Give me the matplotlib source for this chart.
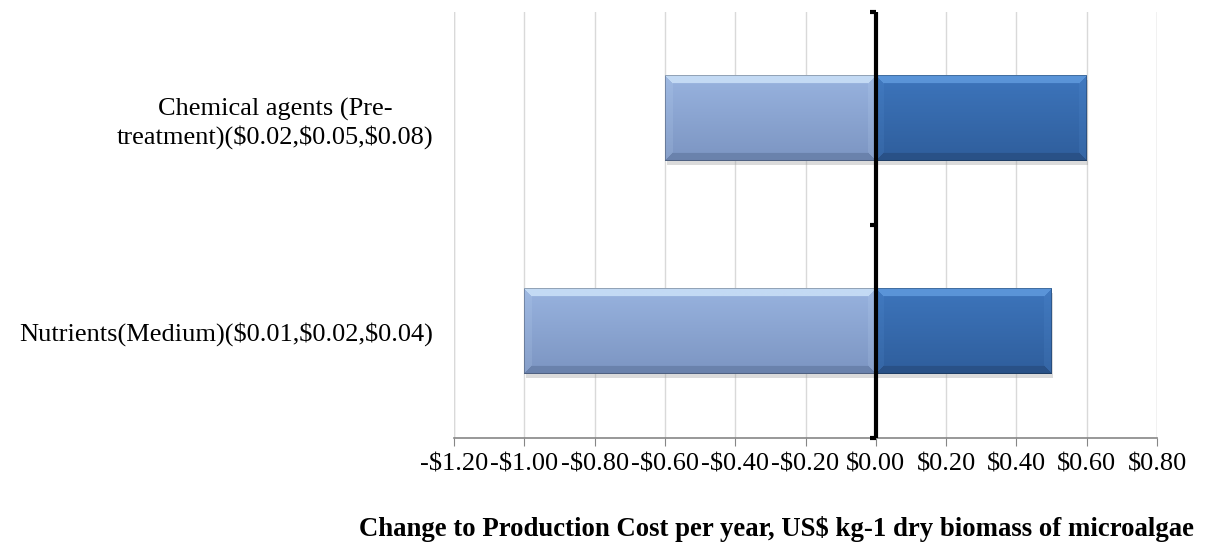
import matplotlib.pyplot as plt
from matplotlib.ticker import FuncFormatter
import numpy as np

categories = ["Nutrients(Medium)($0.01,$0.02,$0.04)",
              "Chemical agents (Pre-\ntreatment)($0.02,$0.05,$0.08)"]
low_change = [-1.00, -0.60]
high_change = [0.50, 0.60]
x_ticks = [-1.20, -1.00, -0.80, -0.60, -0.40, -0.20, 0.00, 0.20, 0.40, 0.60, 0.80]
x_title = "Change to Production Cost per year, US$ kg-1 dry biomass of microalgae"

plt.rcParams['font.family'] = ['Liberation Serif', 'DejaVu Serif']


def hex_rgb(h):
    h = h.lstrip('#')
    return np.array([int(h[i:i + 2], 16) / 255 for i in (0, 2, 4)])


def bevel_image(w, h, top, body_top, body_bot, bottom, bev=8):
    # vertical gradient body with lighter top bevel and darker lower edge
    ys = np.arange(h)[:, None] * np.ones((1, w))
    xs = np.ones((h, 1)) * np.arange(w)[None, :]
    t = ys / max(h - 1, 1)
    c_top, c_bt, c_bb, c_bot = map(hex_rgb, (top, body_top, body_bot, bottom))
    img = c_bt[None, None, :] * (1 - t[..., None]) + c_bb[None, None, :] * t[..., None]
    d_top = ys
    d_bot = h - 1 - ys
    d_left = xs
    d_right = w - 1 - xs
    dmin = np.minimum(np.minimum(d_top, d_bot), np.minimum(d_left, d_right))
    top_zone = (d_top == dmin) & (d_top < bev)
    bot_zone = (d_bot == dmin) & (d_bot < bev) & ~top_zone
    side_zone = (np.minimum(d_left, d_right) == dmin) & (dmin < bev) & ~top_zone & ~bot_zone
    img[top_zone] = c_top
    img[bot_zone] = c_bot * 0.6 + c_bb * 0.4
    img[side_zone] = img[side_zone] * 0.85 + c_top * 0.15
    # thin dark outline
    edge = dmin < 1
    img[edge] = img[edge] * 0.75
    return np.clip(img, 0, 1)


fig = plt.figure(figsize=(12.05, 5.58), dpi=100)
ax = fig.add_axes([0.3768, 0.2151, 0.5834, 0.7634])

y = np.arange(len(categories))
bar_h = 0.4
low_bars = ax.barh(y, low_change, height=bar_h, color='#8DA8D6', zorder=2)
high_bars = ax.barh(y, high_change, height=bar_h, color='#3A70B5', zorder=2)

ax.set_xlim(x_ticks[0], x_ticks[-1])
ax.set_ylim(-0.5, len(categories) - 0.5)
ax.set_xticks(x_ticks)
ax.xaxis.set_major_formatter(FuncFormatter(
    lambda v, p: ("-$%.2f" % abs(v)) if v < -1e-9 else ("$%.2f" % abs(v))))
ax.set_yticks(y)
ax.set_yticklabels(categories, fontsize=19, linespacing=1.25)
for lbl in ax.get_yticklabels():
    lbl.set_multialignment('center')
ax.tick_params(axis='y', length=0, pad=15)
ax.tick_params(axis='x', length=6, color='#868686', labelsize=19, pad=5)

for s in ('top', 'right', 'left'):
    ax.spines[s].set_visible(False)
ax.spines['bottom'].set_color('#868686')
ax.spines['bottom'].set_linewidth(1.2)

ax.grid(axis='x', color='#D9D9D9', linewidth=1.0, zorder=0)
ax.set_axisbelow(True)
for xv in (x_ticks[0], x_ticks[-1]):
    ax.axvline(xv, color='#D9D9D9', linewidth=1.0, zorder=0)

# zero line with category ticks
ax.axvline(0, color='black', linewidth=3, zorder=5)
for yb in np.arange(-0.5, len(categories), 1.0):
    ax.plot([-0.018, 0], [yb, yb], color='black', linewidth=3,
            solid_capstyle='butt', zorder=5, clip_on=False)

ax.set_xlabel(x_title, fontsize=19.3, fontweight='bold')
ax.xaxis.set_label_coords(0.458, -0.183)

fig.canvas.draw()
styles = [(low_bars, ('#C3DAF4', '#98B3DF', '#7C95C2', '#5F769E')),
          (high_bars, ('#5A94D8', '#3D75BC', '#2F5E9C', '#25497A'))]
for bars, cols in styles:
    for patch in bars:
        bb = patch.get_window_extent()
        w, h = max(int(round(bb.width)), 2), max(int(round(bb.height)), 2)
        img = bevel_image(w, h, *cols)
        x0, x1 = sorted([patch.get_x(), patch.get_x() + patch.get_width()])
        y0, y1 = patch.get_y(), patch.get_y() + patch.get_height()
        # soft shadow below bar
        ax.fill_between([x0 + 0.005, x1 + 0.005], y0 - 0.02, y1 - 0.02,
                        color='#9A9A9A', alpha=0.35, zorder=1.5, linewidth=0)
        ax.imshow(img, extent=[x0, x1, y0, y1], origin='upper',
                  aspect='auto', interpolation='bilinear', zorder=3)
        patch.set_visible(False)

ax.set_xlim(x_ticks[0], x_ticks[-1])
ax.set_ylim(-0.5, len(categories) - 0.5)

fig.savefig('out.png', dpi=100)
